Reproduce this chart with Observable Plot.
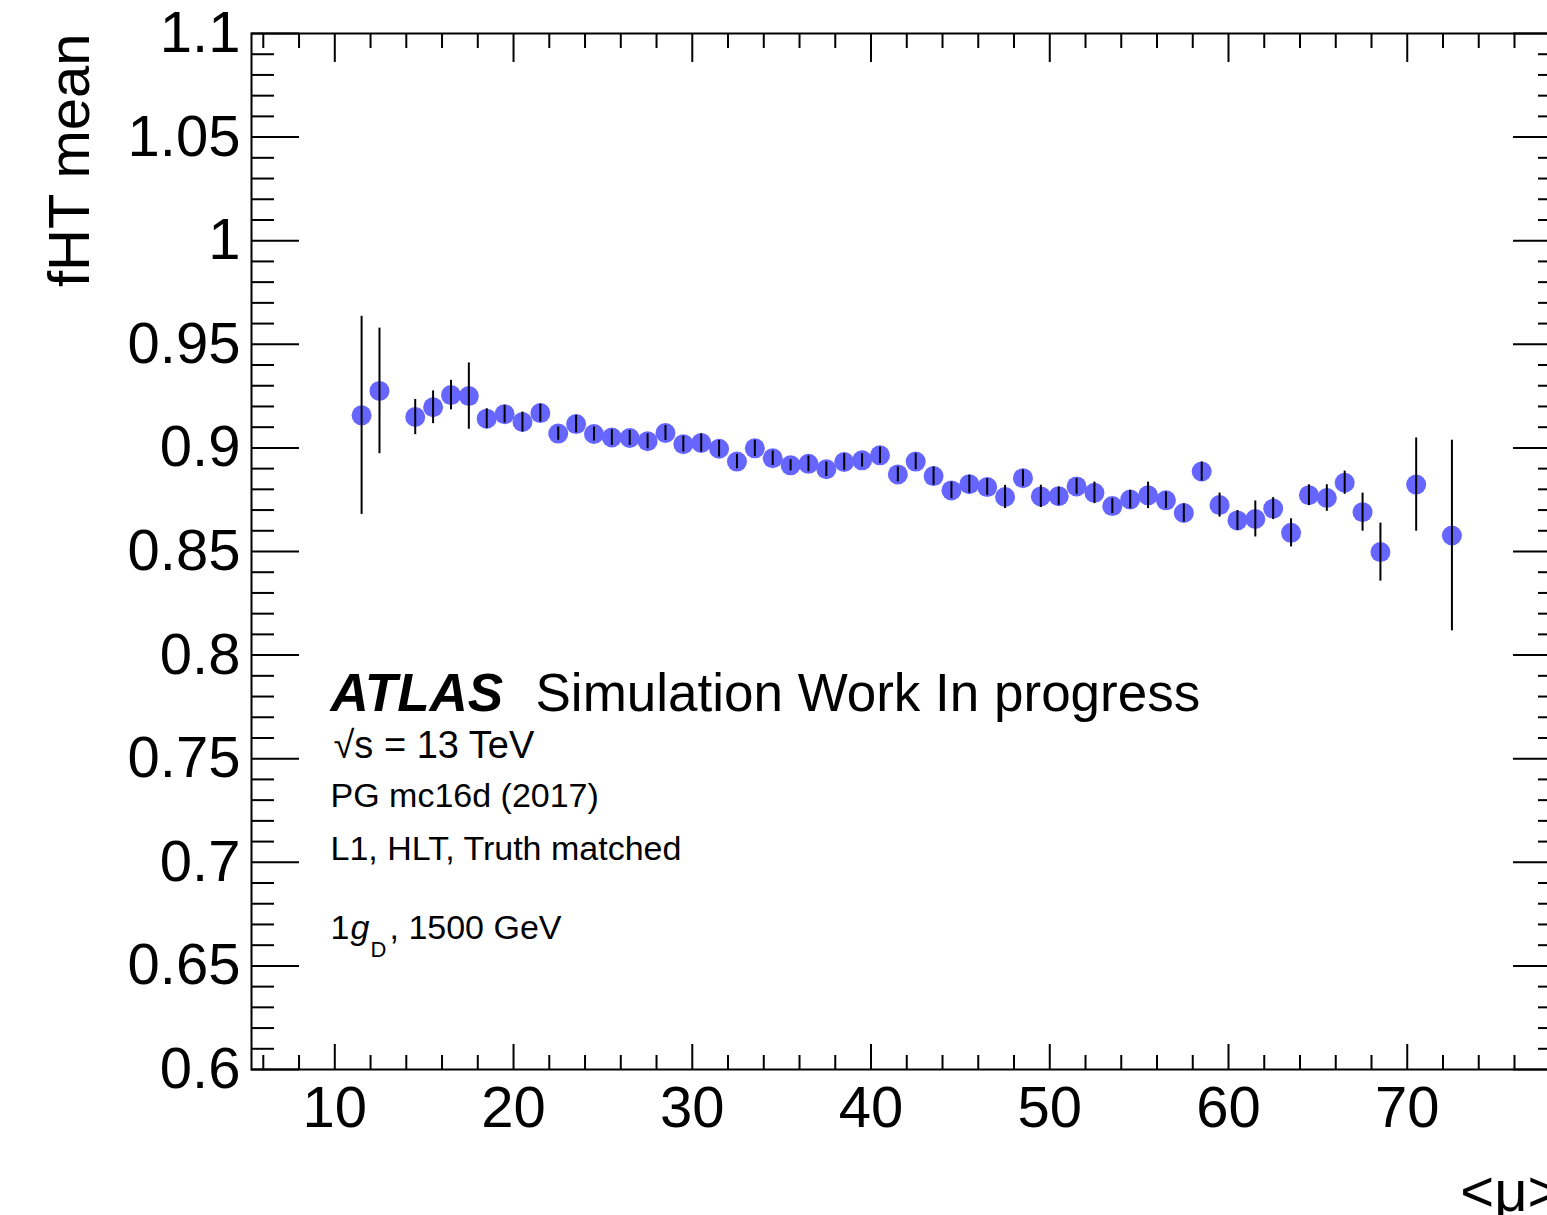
<!DOCTYPE html>
<html><head><meta charset="utf-8">
<script src="https://cdn.jsdelivr.net/npm/d3@7"></script>
<script src="https://cdn.jsdelivr.net/npm/@observablehq/plot@0.6"></script>
<style>
html,body{margin:0;padding:0;background:#fff;overflow:hidden;}
#wrap{width:1547px;height:1215px;overflow:hidden;position:relative;}
#wrap svg{display:block;max-width:none;}
</style></head><body><div id="wrap"></div>
<script>
// <mu> bin centres
const mu = [11.5, 12.5, 14.5, 15.5, 16.5, 17.5, 18.5, 19.5, 20.5, 21.5, 22.5, 23.5, 24.5, 25.5, 26.5, 27.5, 28.5, 29.5, 30.5, 31.5, 32.5, 33.5, 34.5, 35.5, 36.5, 37.5, 38.5, 39.5, 40.5, 41.5, 42.5, 43.5, 44.5, 45.5, 46.5, 47.5, 48.5, 49.5, 50.5, 51.5, 52.5, 53.5, 54.5, 55.5, 56.5, 57.5, 58.5, 59.5, 60.5, 61.5, 62.5, 63.5, 64.5, 65.5, 66.5, 67.5, 68.5, 70.5, 72.5];
// fHT mean
const fhtMean = [0.9157, 0.9275, 0.9149, 0.9196, 0.9255, 0.9250, 0.9141, 0.9163, 0.9125, 0.9168, 0.9069, 0.9115, 0.9067, 0.9050, 0.9048, 0.9032, 0.9072, 0.9018, 0.9024, 0.8996, 0.8934, 0.8998, 0.8950, 0.8916, 0.8923, 0.8897, 0.8932, 0.8940, 0.8964, 0.8872, 0.8934, 0.8864, 0.8795, 0.8825, 0.8811, 0.8763, 0.8854, 0.8766, 0.8767, 0.8814, 0.8783, 0.8719, 0.8751, 0.8771, 0.8747, 0.8686, 0.8886, 0.8724, 0.8650, 0.8657, 0.8707, 0.8590, 0.8772, 0.8758, 0.8832, 0.8690, 0.8497, 0.8823, 0.8577];
// error on the mean
const fhtErr = [0.0478, 0.0303, 0.0085, 0.0079, 0.0071, 0.0160, 0.0048, 0.0043, 0.0048, 0.0043, 0.0032, 0.0042, 0.0034, 0.0038, 0.0036, 0.0036, 0.0036, 0.0038, 0.0044, 0.0040, 0.0035, 0.0039, 0.0035, 0.0027, 0.0038, 0.0035, 0.0040, 0.0032, 0.0040, 0.0036, 0.0039, 0.0044, 0.0040, 0.0043, 0.0040, 0.0056, 0.0040, 0.0054, 0.0044, 0.0038, 0.0052, 0.0036, 0.0044, 0.0064, 0.0040, 0.0044, 0.0046, 0.0058, 0.0048, 0.0087, 0.0053, 0.0068, 0.0050, 0.0064, 0.0056, 0.0092, 0.0140, 0.0225, 0.0460];

const xMajorTicks = [10, 20, 30, 40, 50, 60, 70];
const xTickLabels = ["10", "20", "30", "40", "50", "60", "70"];
const xMinorTicks = [6, 8, 12, 14, 16, 18, 22, 24, 26, 28, 32, 34, 36, 38, 42, 44, 46, 48, 52, 54, 56, 58, 62, 64, 66, 68, 72, 74, 76, 78];
const yMajorTicks = [0.6, 0.65, 0.7, 0.75, 0.8, 0.85, 0.9, 0.95, 1.0, 1.05, 1.1];
const yTickLabels = ["0.6", "0.65", "0.7", "0.75", "0.8", "0.85", "0.9", "0.95", "1", "1.05", "1.1"];
const yMinorTicks = d3.range(60, 111).filter(i => i % 5 !== 0).map(i => i / 100);

const xLabel = "<μ>";
const yLabel = "fHT mean";

const data = mu.map((m, i) => ({mu: m, mean: fhtMean[i], err: fhtErr[i]}));

const W = 1575, H = 1215, mL = 251, mR = 14, mT = 33, mB = 146;
const fW = W - mL - mR, fH = H - mT - mB;
const font = "'Liberation Sans', Arial, Helvetica, sans-serif";
const ink = "black";

function note(str, dx, dy, size, extra = {}) {
  return Plot.text([str], {text: d => d, frameAnchor: "top-left", textAnchor: "start", lineAnchor: "bottom",
    dx, dy, fontSize: size, fill: ink, ...extra});
}

const chart = Plot.plot({
  width: W, height: H,
  marginLeft: mL, marginRight: mR, marginTop: mT, marginBottom: mB,
  style: {fontFamily: font, background: "white", maxWidth: "none", color: "black"},
  x: {domain: [5.34, 78.63], axis: null},
  y: {domain: [0.6, 1.1], axis: null},
  marks: [
    // ticks, inward on all four sides
    Plot.tickX(xMajorTicks, {x: d => d, insetTop: fH - 25, stroke: ink, strokeWidth: 2}),
    Plot.tickX(xMinorTicks, {x: d => d, insetTop: fH - 14, stroke: ink, strokeWidth: 2}),
    Plot.tickX(xMajorTicks, {x: d => d, insetBottom: fH - 29, stroke: ink, strokeWidth: 2}),
    Plot.tickX(xMinorTicks, {x: d => d, insetBottom: fH - 15, stroke: ink, strokeWidth: 2}),
    Plot.tickY(yMajorTicks, {y: d => d, insetRight: fW - 48, stroke: ink, strokeWidth: 2}),
    Plot.tickY(yMinorTicks, {y: d => d, insetRight: fW - 23, stroke: ink, strokeWidth: 2}),
    Plot.tickY(yMajorTicks, {y: d => d, insetLeft: fW - 48, stroke: ink, strokeWidth: 2}),
    Plot.tickY(yMinorTicks, {y: d => d, insetLeft: fW - 23, stroke: ink, strokeWidth: 2}),
    Plot.frame({stroke: ink, strokeWidth: 2}),
    Plot.axisX(xMajorTicks, {anchor: "bottom", tickSize: 0, tickPadding: 16, fontSize: 58, label: null,
      tickFormat: (d, i) => xTickLabels[xMajorTicks.indexOf(d)], fill: ink}),
    Plot.axisY(yMajorTicks, {anchor: "left", tickSize: 0, tickPadding: 11, fontSize: 58, label: null,
      tickFormat: d => yTickLabels[yMajorTicks.indexOf(d)], fill: ink}),
    // axis titles
    Plot.text([yLabel], {text: d => d, frameAnchor: "top-left", rotate: -90, textAnchor: "end", lineAnchor: "bottom",
      dx: -163, dy: 0, fontSize: 58, fill: ink}),
    Plot.text([xLabel], {text: d => d, frameAnchor: "bottom-right", textAnchor: "end", lineAnchor: "bottom",
      dx: 0, dy: 141, fontSize: 58, fill: ink}),
    // data
    Plot.dot(data, {x: "mu", y: "mean", r: 10, fill: "#6666ff", stroke: "none"}),
    Plot.ruleX(data, {x: "mu", y1: d => d.mean - d.err, y2: d => d.mean + d.err, stroke: ink, strokeWidth: 2}),
    // annotations
    note("ATLAS", 79, 677, 53, {fontWeight: "bold", fontStyle: "italic"}),
    note("Simulation Work In progress", 284, 677, 53),
    note("√s = 13 TeV", 82, 724, 38),
    note("PG mc16d (2017)", 79, 773, 34),
    note("L1, HLT, Truth matched", 79, 826, 34),
    note("1", 79, 905, 34),
    note("g", 99, 905, 34, {fontStyle: "italic"}),
    note("D", 119, 923, 22),
    note(", 1500 GeV", 138, 905, 34)
  ]
});
document.getElementById("wrap").appendChild(chart);
</script>
</body></html>
